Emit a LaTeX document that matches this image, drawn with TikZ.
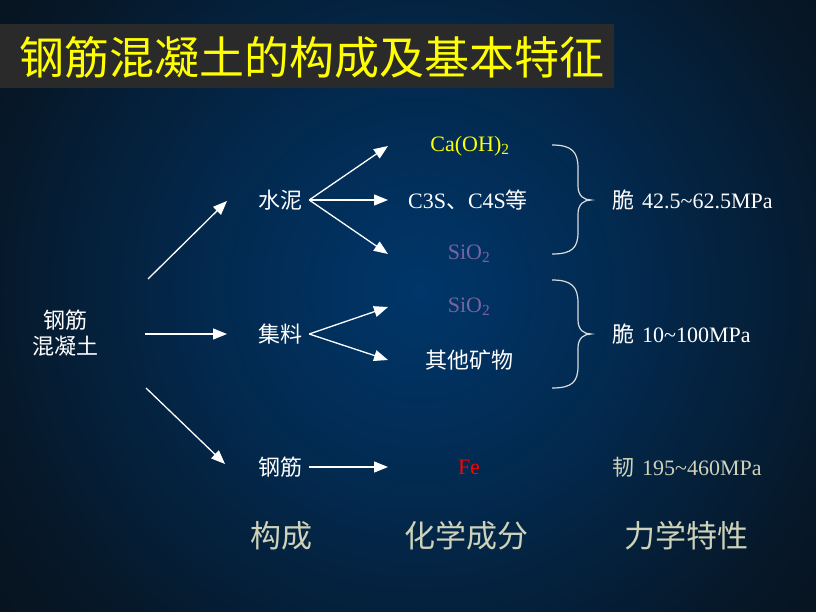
\documentclass[tikz,border=0pt]{standalone}
\usepackage{fontspec}
\setmainfont{Liberation Serif}
\newfontfamily\cjk{Noto Sans CJK SC}
\usetikzlibrary{arrows.meta}
\definecolor{glowin}{RGB}{0,54,106}
\definecolor{glowout}{RGB}{9,12,15}
\definecolor{titlebg}{RGB}{42,42,42}
\definecolor{titleyellow}{RGB}{255,255,0}
\definecolor{silica}{RGB}{120,100,160}
\definecolor{khaki}{RGB}{205,210,185}
\definecolor{bracegray}{RGB}{220,220,220}
\pgfdeclareradialshading{glow}{\pgfpoint{0bp}{0bp}}{color(0bp)=(glowin); color(10bp)=(glowin!70!glowout); color(22bp)=(glowin!25!glowout); color(34bp)=(glowout); color(50bp)=(glowout)}

\begin{document}
\begin{tikzpicture}[x=1pt,y=-1pt,
txt/.style={text=white, font=\fontsize{22}{26}\selectfont, inner sep=2pt},
cjktxt/.style={txt, font=\cjk\fontsize{22}{26}\selectfont},
axis/.style={text=khaki, font=\cjk\fontsize{31}{36}\selectfont},
arr/.style={-{Triangle[length=14pt,width=11pt]}, white, line width=1.3pt},
brace/.style={bracegray, line width=1.2pt}]
\useasboundingbox (0,0) rectangle (816,612);
\begin{scope}
\clip (0,0) rectangle (816,612);
\shade[shading=glow] (-100,-230) rectangle (940,810);
\end{scope}
\fill[titlebg] (0,24) rectangle (614,88);
\node[text=titleyellow, font=\cjk\fontsize{45}{48}\selectfont] (title) at (312,57) {钢筋混凝土的构成及基本特征};

\node[cjktxt, align=center] (concrete) at (65,333) {钢筋\\混凝土};
\node[cjktxt] (cement) at (280,200) {水泥};
\node[cjktxt] (aggregate) at (280,334) {集料};
\node[cjktxt] (steel) at (280,467) {钢筋};

\node[txt, text=titleyellow] (caoh) at (470,146) {Ca(OH)\textsubscript{2}};
\node[txt] (clinker) at (468,200) {C3S{\cjk 、}C4S{\cjk 等}};
\node[txt, text=silica] (silicaA) at (469,254) {SiO\textsubscript{2}};
\node[txt, text=silica] (silicaB) at (469,307) {SiO\textsubscript{2}};
\node[cjktxt] (minerals) at (469,360) {其他矿物};
\node[txt, text=red] (iron) at (469,467) {Fe};

\node[txt, anchor=west] (brittleA) at (610,200) {{\cjk 脆}\hspace{8pt}42.5\textasciitilde62.5MPa};
\node[txt, anchor=west] (brittleB) at (610,334) {{\cjk 脆}\hspace{8pt}10\textasciitilde100MPa};
\node[txt, anchor=west, text=khaki] (tough) at (610,467) {{\cjk 韧}\hspace{8pt}195\textasciitilde460MPa};

\node[axis] (compose) at (281,536) {构成};
\node[axis] (chem) at (466,536) {化学成分};
\node[axis] (mech) at (686,536) {力学特性};

\coordinate (fromA) at (148,279);
\coordinate (toA) at (227,201);
\coordinate (fromB) at (145,334);
\coordinate (toB) at (227,334);
\coordinate (fromC) at (146,388);
\coordinate (toC) at (225,464);
\coordinate (fan) at (388,0);

\draw[arr] (fromA) -- (toA);
\draw[arr] (fromB) -- (toB);
\draw[arr] (fromC) -- (toC);
\draw[arr] ([xshift=5pt]cement.east) -- (fan |- caoh);
\draw[arr] ([xshift=5pt]cement.east) -- (fan |- clinker);
\draw[arr] ([xshift=5pt]cement.east) -- (fan |- silicaA);
\draw[arr] ([xshift=5pt]aggregate.east) -- (fan |- silicaB);
\draw[arr] ([xshift=5pt]aggregate.east) -- (fan |- minerals);
\draw[arr] ([xshift=5pt]steel.east) -- (fan |- iron);

\draw[brace] (552,145) .. controls (572,145) and (578,152) .. (578,168) -- (578,186) .. controls (578,196) and (584,200) .. (591,200) .. controls (584,200) and (578,204) .. (578,214) -- (578,232) .. controls (578,248) and (572,254) .. (552,254);
\draw[brace] (552,280) .. controls (572,280) and (578,287) .. (578,303) -- (578,320) .. controls (578,330) and (584,334) .. (591,334) .. controls (584,334) and (578,338) .. (578,348) -- (578,366) .. controls (578,382) and (572,388) .. (552,388);
\end{tikzpicture}
\end{document}
